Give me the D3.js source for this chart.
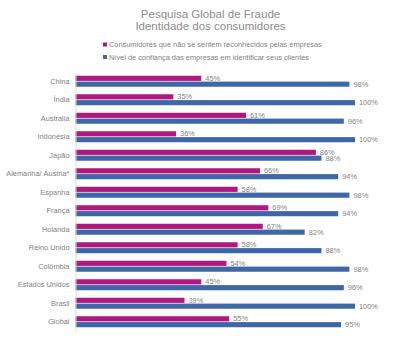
<!DOCTYPE html>
<html><head><meta charset="utf-8">
<script src="https://cdn.jsdelivr.net/npm/d3@7"></script>
<style>body{margin:0;background:#fff}svg{display:block}</style>
</head><body>
<script>
const categories = ["China","Índia","Austrália","Indonésia","Japão","Alemanha/ Áustria*","Espanha","França","Holanda","Reino Unido","Colômbia","Estados Unidos","Brasil","Global"];
const consumidores = [45,35,61,36,86,66,58,69,67,58,54,45,39,55];
const confianca = [98,100,96,100,88,94,98,94,82,88,98,96,100,95];
const seriesNames = ["Consumidores que não se sentem reconhecidos pelas empresas","Nível de confiança das empresas em identificar seus clientes"];
const colors = ["#B0187E","#3F67A8"];

const W=420,H=340;
const svg=d3.select("body").append("svg").attr("width",W).attr("height",H);
const font="Arial, 'Liberation Sans', sans-serif";
const gray="#8c8c8c";

svg.append("text").attr("x",210.5).attr("y",18).attr("text-anchor","middle")
  .attr("font-family",font).attr("font-size",11.5).attr("fill",gray).text("Pesquisa Global de Fraude");
svg.append("text").attr("x",210.5).attr("y",29.8).attr("text-anchor","middle")
  .attr("font-family",font).attr("font-size",11.5).attr("fill",gray).text("Identidade dos consumidores");

seriesNames.forEach((n,i)=>{
  const y=45+i*12.5;
  svg.append("rect").attr("x",103).attr("y",y-2.5).attr("width",4).attr("height",4).attr("fill",colors[i]);
  svg.append("text").attr("x",109).attr("y",y+2.2).attr("font-family",font).attr("font-size",7.4)
    .attr("fill","#7f7f7f").text(n);
});

const x=d3.scaleLinear().domain([0,100]).range([75.5,355]);
const y=d3.scaleBand().domain(categories).range([72,331]);
const inner=d3.scaleBand().domain([0,1]).range([y.bandwidth()/2-5.5,y.bandwidth()/2+5.5]).paddingInner(0.12);

const g=svg.append("g");
const yAxis=d3.axisLeft(y).tickSize(0).tickPadding(6);
const ga=svg.append("g").attr("transform","translate(75.5,0)").call(yAxis);
ga.select(".domain").attr("stroke","#d9d9d9");
ga.selectAll("text").attr("font-family",font).attr("font-size",7.4).attr("fill","#7f7f7f");

[consumidores,confianca].forEach((arr,si)=>{
  const grp=g.append("g");
  grp.selectAll("rect").data(arr).join("rect")
    .attr("x",x(0)).attr("y",(d,i)=>y(categories[i])+inner(si))
    .attr("width",d=>x(d)-x(0)).attr("height",inner.bandwidth()).attr("fill",colors[si]);
  grp.selectAll("text").data(arr).join("text")
    .attr("x",d=>x(d)+4).attr("y",(d,i)=>y(categories[i])+inner(si)+inner.bandwidth()/2+2.6)
    .attr("font-family",font).attr("font-size",7.4).attr("fill","#7f7f7f").text(d=>d+"%");
});
</script>
</body></html>
